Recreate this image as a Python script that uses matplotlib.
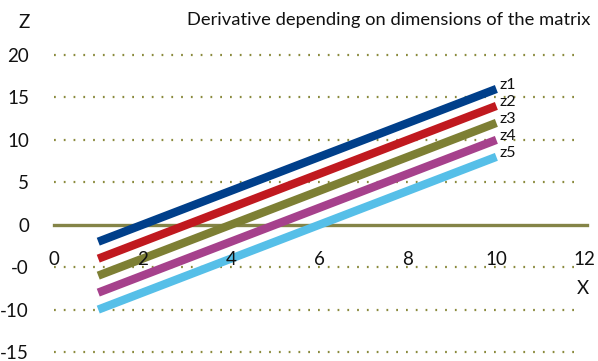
import numpy as np
from matplotlib import pyplot as plt

plt.rcParams['font.family'] = ['Lato', 'DejaVu Sans']

x = [1, 10]
series = {
    "z1": [-2, 16],
    "z2": [-4, 14],
    "z3": [-6, 12],
    "z4": [-8, 10],
    "z5": [-10, 8],
}
colors = ["#003f8a", "#c0191f", "#7d7f34", "#a6418c", "#56bfe8"]

y_ticks = [-15, -10, -5, 0, 5, 10, 15, 20]
y_labels = ["-15", "-10", "-0", "0", "5", "10", "15", "20"]
x_ticks = [0, 2, 4, 6, 8, 10, 12]

fig = plt.figure(figsize=(5.98, 3.61), dpi=100)
ax = fig.add_axes([0.0903, 0.0249, 0.8877, 0.8227])
ax.set_xlim(0, 12)
ax.set_ylim(-15, 20)

# dotted grid lines, the zero line is solid
for y in y_ticks:
    if y == 0:
        continue
    ax.plot([0, 11.75], [y, y], color="#8a8a3c", lw=1.6,
            dashes=(0.8, 3.6), clip_on=False, zorder=1)
ax.plot([0, 12.05], [0, 0], color="#848447", lw=2.4, clip_on=False, zorder=1)

for (name, vals), c in zip(series.items(), colors):
    ax.plot(x, vals, color=c, lw=6, solid_capstyle="butt", zorder=3)
    ax.text(x[-1] + 0.06, vals[-1] + 0.45, name, fontsize=11.5,
            va="center", ha="left", color="#111111")

for t in x_ticks:
    ax.text(t, -4.1, str(t), fontsize=13.5, ha="center", va="center",
            color="#111111")

ax.set_yticks(y_ticks)
ax.set_yticklabels(y_labels, fontsize=13.5, color="#111111")
ax.tick_params(axis="y", length=0, pad=18)
ax.set_xticks([])
for s in ax.spines.values():
    s.set_visible(False)

fig.text(24 / 598, 1 - 23 / 361, "Z", fontsize=13.5, ha="center", va="center",
         color="#111111")
fig.text(583 / 598, 1 - 288 / 361, "X", fontsize=13.5, ha="center", va="center",
         color="#111111")
fig.text(590 / 598, 1 - 20 / 361, "Derivative depending on dimensions of the matrix",
         fontsize=13.2, ha="right", va="center", color="#111111")

fig.savefig("out.png", dpi=100)
